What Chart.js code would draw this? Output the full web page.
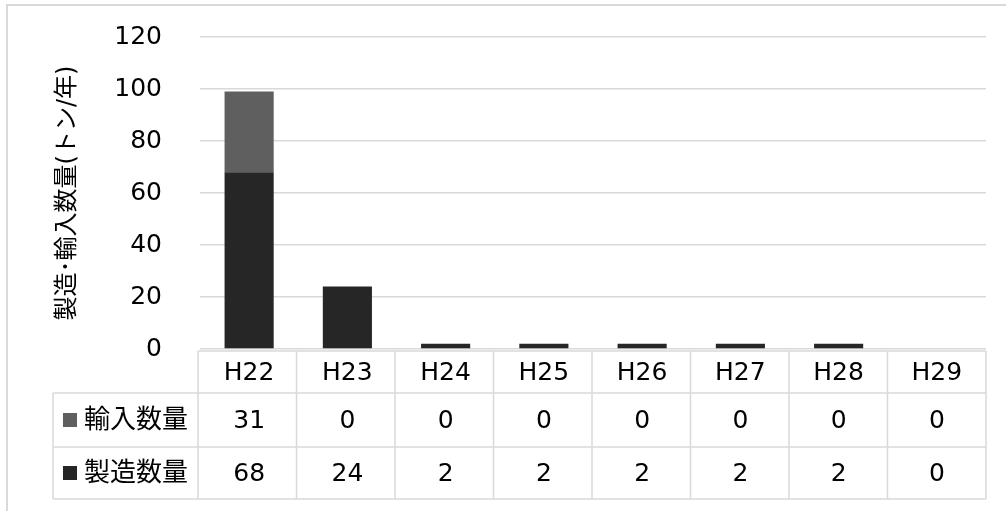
<!DOCTYPE html>
<html lang="ja">
<head>
<meta charset="utf-8">
<script src="https://cdn.jsdelivr.net/npm/chart.js@4.4.0/dist/chart.umd.min.js"></script>
<style>
  html, body { margin: 0; padding: 0; background: #fff; }
  #wrap { width: 1006px; height: 511px; position: relative; }
</style>
</head>
<body>
<div id="wrap"><canvas id="chart"></canvas></div>
<script>
// データ
const categories = ['H22', 'H23', 'H24', 'H25', 'H26', 'H27', 'H28', 'H29'];
const importValues = [31, 0, 0, 0, 0, 0, 0, 0];      // 輸入数量
const productionValues = [68, 24, 2, 2, 2, 2, 2, 0];  // 製造数量
const yMax = 120;
const yStep = 20;
const yTitle = '製造･輸入数量(トン/年)';

const FONT = '"DejaVu Sans", "Noto Sans CJK JP", sans-serif';
const LINE = '#d9d9d9';
const COLOR_IMPORT = '#5f5f5f';
const COLOR_PROD = '#262626';

// 外枠とデータテーブル
const tablePlugin = {
    id: 'dataTable',
    beforeDraw(chart) {
        const ctx = chart.ctx;
        ctx.save();
        ctx.strokeStyle = LINE;
        ctx.lineWidth = 2;
        ctx.beginPath();
        ctx.moveTo(7, 511);
        ctx.lineTo(7, 5);
        ctx.lineTo(1006, 5);
        ctx.stroke();
        ctx.restore();
    },
    afterDraw(chart) {
        const { ctx, chartArea } = chart;
        const xs = chart.scales.x;
        const left = chartArea.left - 2;
        const right = chartArea.right;
        const colW = (right - left) / categories.length;
        const labelLeft = 53;
        const rowY = [351, 393, 447, 499];

        ctx.save();
        ctx.strokeStyle = LINE;
        ctx.lineWidth = 1.5;
        ctx.beginPath();
        ctx.moveTo(left, rowY[0]); ctx.lineTo(right, rowY[0]);
        for (let r = 1; r < rowY.length; r++) {
            ctx.moveTo(labelLeft, rowY[r]); ctx.lineTo(right, rowY[r]);
        }
        ctx.moveTo(labelLeft, rowY[1]); ctx.lineTo(labelLeft, rowY[3]);
        for (let i = 0; i <= categories.length; i++) {
            const x = left + i * colW;
            ctx.moveTo(x, rowY[0]); ctx.lineTo(x, rowY[3]);
        }
        ctx.stroke();

        ctx.fillStyle = '#000';
        ctx.font = '25px ' + FONT;
        ctx.textAlign = 'center';
        ctx.textBaseline = 'middle';
        const rows = [
            { name: '輸入数量', color: COLOR_IMPORT, values: importValues },
            { name: '製造数量', color: COLOR_PROD, values: productionValues }
        ];
        categories.forEach((c, i) => {
            const cx = xs.getPixelForValue(i);
            ctx.fillText(c, cx, (rowY[0] + rowY[1]) / 2 + 1);
            rows.forEach((row, r) => {
                ctx.fillText(String(row.values[i]), cx, (rowY[r + 1] + rowY[r + 2]) / 2 + 1);
            });
        });

        // 行ラベル（凡例付き）
        rows.forEach((row, r) => {
            const cy = (rowY[r + 1] + rowY[r + 2]) / 2;
            ctx.fillStyle = row.color;
            ctx.fillRect(63, cy - 7, 14, 14);
            ctx.fillStyle = '#000';
            ctx.textAlign = 'left';
            ctx.font = '26px ' + FONT;
            ctx.fillText(row.name, 84, cy + 1);
        });
        ctx.restore();
    }
};

const ctx = document.getElementById('chart').getContext('2d');
new Chart(ctx, {
    type: 'bar',
    data: {
        labels: categories,
        datasets: [
            { label: '製造数量', data: productionValues, backgroundColor: COLOR_PROD },
            { label: '輸入数量', data: importValues, backgroundColor: COLOR_IMPORT }
        ]
    },
    options: {
        responsive: true,
        maintainAspectRatio: false,
        animation: false,
        devicePixelRatio: 1,
        layout: { padding: { top: 37, right: 20, bottom: 162, left: 0 } },
        datasets: { bar: { barPercentage: 0.5, categoryPercentage: 1 } },
        plugins: {
            legend: { display: false },
            tooltip: { enabled: false }
        },
        scales: {
            x: { stacked: true, display: false },
            y: {
                stacked: true,
                min: 0,
                max: yMax,
                afterFit: (scale) => {
                    scale.width = 200;
                    // ticks.padding が上下余白に加算されるのを打ち消す
                    scale.paddingTop = 15;
                    scale.paddingBottom = 15;
                },
                ticks: {
                    stepSize: yStep,
                    padding: 38,
                    color: '#000',
                    font: { family: FONT, size: 25 }
                },
                grid: { color: LINE, lineWidth: 1.5, drawTicks: false },
                border: { display: false },
                title: {
                    display: true,
                    text: yTitle,
                    color: '#000',
                    font: { family: FONT, size: 24 },
                    padding: { top: 53, bottom: 0 }
                }
            }
        }
    },
    plugins: [tablePlugin]
});
</script>
</body>
</html>
